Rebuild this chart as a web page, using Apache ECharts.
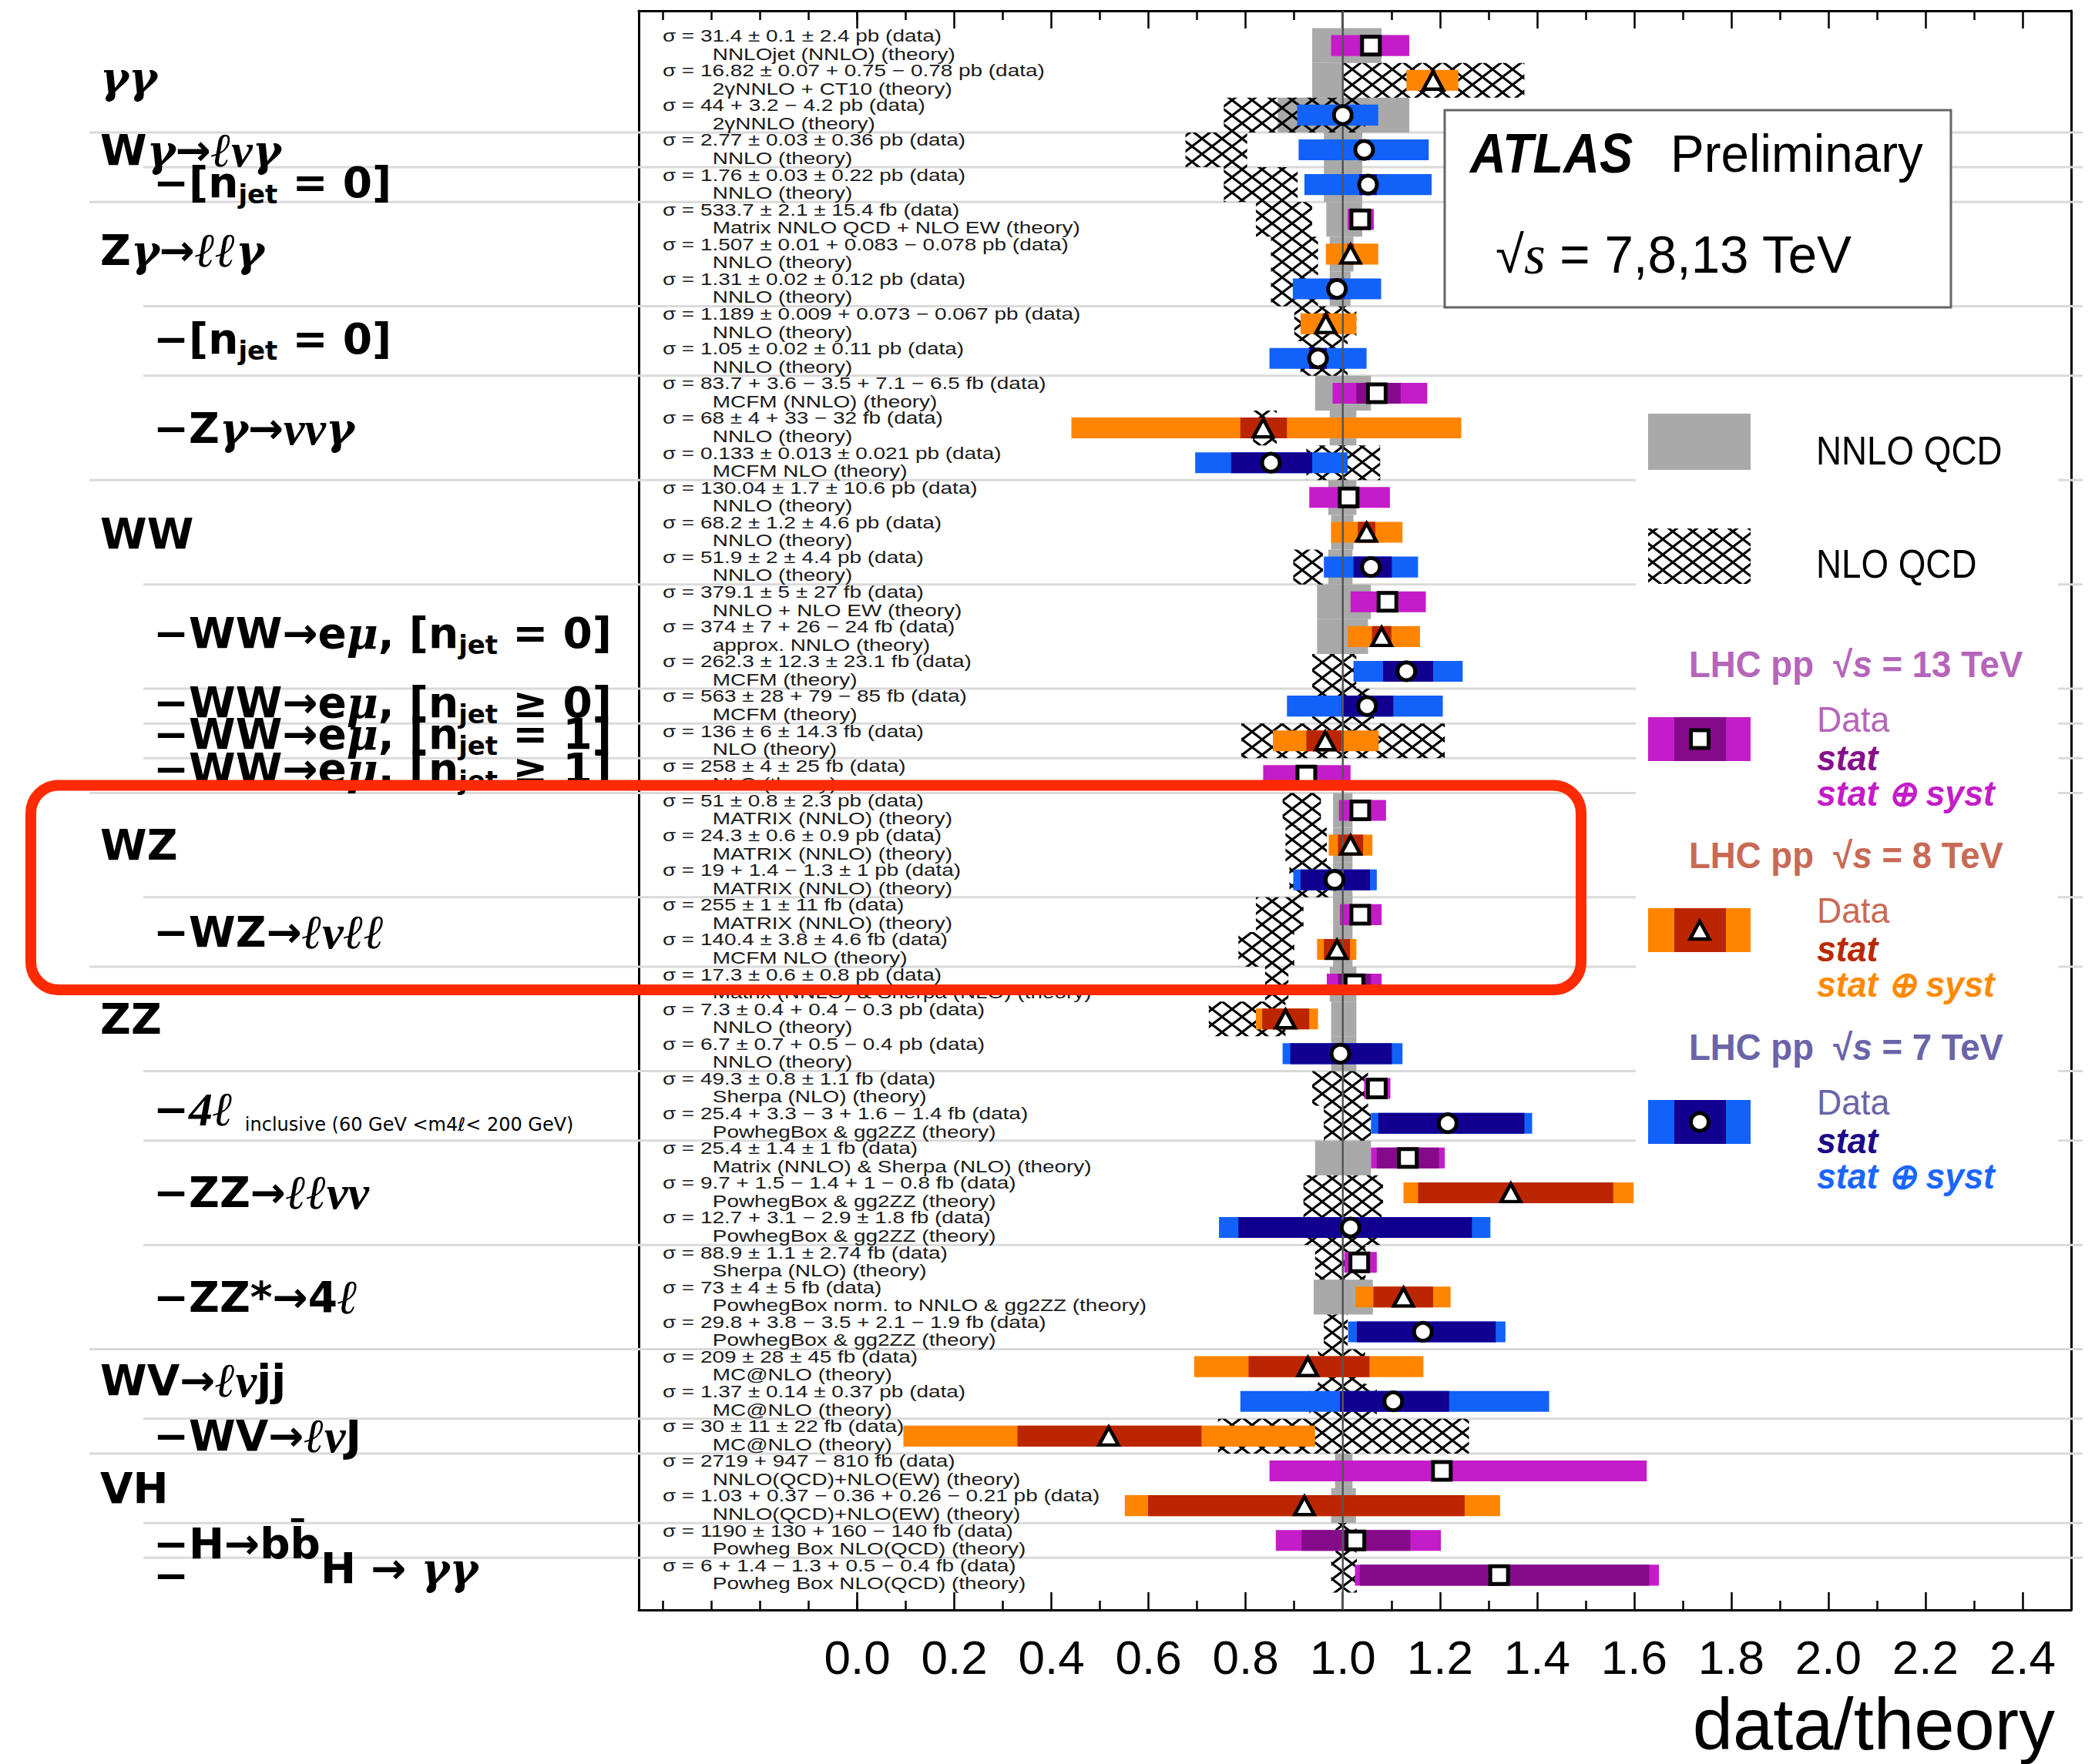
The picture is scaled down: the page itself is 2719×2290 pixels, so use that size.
<!DOCTYPE html>
<html><head><meta charset="utf-8">
<script src="https://cdn.jsdelivr.net/npm/echarts@6/dist/echarts.min.js"></script>
<style>html,body{margin:0;padding:0;background:#fff}#c{width:2719px;height:2290px}</style>
</head><body><div id="c"></div>
<script>
// ---------------- data ----------------
const dataText = [
"σ = 31.4 ± 0.1 ± 2.4 pb (data)",
"σ = 16.82 ± 0.07 + 0.75 − 0.78 pb (data)",
"σ = 44 + 3.2 − 4.2 pb (data)",
"σ = 2.77 ± 0.03 ± 0.36 pb (data)",
"σ = 1.76 ± 0.03 ± 0.22 pb (data)",
"σ = 533.7 ± 2.1 ± 15.4 fb (data)",
"σ = 1.507 ± 0.01 + 0.083 − 0.078 pb (data)",
"σ = 1.31 ± 0.02 ± 0.12 pb (data)",
"σ = 1.189 ± 0.009 + 0.073 − 0.067 pb (data)",
"σ = 1.05 ± 0.02 ± 0.11 pb (data)",
"σ = 83.7 + 3.6 − 3.5 + 7.1 − 6.5 fb (data)",
"σ = 68 ± 4 + 33 − 32 fb (data)",
"σ = 0.133 ± 0.013 ± 0.021 pb (data)",
"σ = 130.04 ± 1.7 ± 10.6 pb (data)",
"σ = 68.2 ± 1.2 ± 4.6 pb (data)",
"σ = 51.9 ± 2 ± 4.4 pb (data)",
"σ = 379.1 ± 5 ± 27 fb (data)",
"σ = 374 ± 7 + 26 − 24 fb (data)",
"σ = 262.3 ± 12.3 ± 23.1 fb (data)",
"σ = 563 ± 28 + 79 − 85 fb (data)",
"σ = 136 ± 6 ± 14.3 fb (data)",
"σ = 258 ± 4 ± 25 fb (data)",
"σ = 51 ± 0.8 ± 2.3 pb (data)",
"σ = 24.3 ± 0.6 ± 0.9 pb (data)",
"σ = 19 + 1.4 − 1.3 ± 1 pb (data)",
"σ = 255 ± 1 ± 11 fb (data)",
"σ = 140.4 ± 3.8 ± 4.6 fb (data)",
"σ = 17.3 ± 0.6 ± 0.8 pb (data)",
"σ = 7.3 ± 0.4 + 0.4 − 0.3 pb (data)",
"σ = 6.7 ± 0.7 + 0.5 − 0.4 pb (data)",
"σ = 49.3 ± 0.8 ± 1.1 fb (data)",
"σ = 25.4 + 3.3 − 3 + 1.6 − 1.4 fb (data)",
"σ = 25.4 ± 1.4 ± 1 fb (data)",
"σ = 9.7 + 1.5 − 1.4 + 1 − 0.8 fb (data)",
"σ = 12.7 + 3.1 − 2.9 ± 1.8 fb (data)",
"σ = 88.9 ± 1.1 ± 2.74 fb (data)",
"σ = 73 ± 4 ± 5 fb (data)",
"σ = 29.8 + 3.8 − 3.5 + 2.1 − 1.9 fb (data)",
"σ = 209 ± 28 ± 45 fb (data)",
"σ = 1.37 ± 0.14 ± 0.37 pb (data)",
"σ = 30 ± 11 ± 22 fb (data)",
"σ = 2719 + 947 − 810 fb (data)",
"σ = 1.03 + 0.37 − 0.36 + 0.26 − 0.21 pb (data)",
"σ = 1190 ± 130 + 160 − 140 fb (data)",
"σ = 6 + 1.4 − 1.3 + 0.5 − 0.4 fb (data)"
];
const theoryText = [
"NNLOjet (NNLO) (theory)","2γNNLO + CT10 (theory)","2γNNLO (theory)","NNLO (theory)","NNLO (theory)",
"Matrix NNLO QCD + NLO EW (theory)","NNLO (theory)","NNLO (theory)","NNLO (theory)","NNLO (theory)",
"MCFM (NNLO) (theory)","NNLO (theory)","MCFM NLO (theory)","NNLO (theory)","NNLO (theory)",
"NNLO (theory)","NNLO + NLO EW (theory)","approx. NNLO (theory)","MCFM (theory)","MCFM (theory)",
"NLO (theory)","NLO (theory)","MATRIX (NNLO) (theory)","MATRIX (NNLO) (theory)","MATRIX (NNLO) (theory)",
"MATRIX (NNLO) (theory)","MCFM NLO (theory)","Matrix (NNLO) & Sherpa (NLO) (theory)","NNLO (theory)","NNLO (theory)",
"Sherpa (NLO) (theory)","PowhegBox & gg2ZZ (theory)","Matrix (NNLO) & Sherpa (NLO) (theory)","PowhegBox & gg2ZZ (theory)","PowhegBox & gg2ZZ (theory)",
"Sherpa (NLO) (theory)","PowhegBox norm. to NNLO & gg2ZZ (theory)","PowhegBox & gg2ZZ (theory)","MC@NLO (theory)","MC@NLO (theory)",
"MC@NLO (theory)","NNLO(QCD)+NLO(EW) (theory)","NNLO(QCD)+NLO(EW) (theory)","Powheg Box NLO(QCD) (theory)","Powheg Box NLO(QCD) (theory)"
];
const energy = [13,8,7,7,7,13,8,7,8,7,13,8,7,13,8,7,13,8,7,7,8,13,13,8,7,13,8,13,8,7,13,7,13,8,7,13,8,7,8,7,8,13,8,13,13];
const ratio  = [1.058,1.186,1.000,1.044,1.052,1.036,1.016,0.988,0.965,0.949,1.070,0.836,0.852,1.012,1.049,1.058,1.092,1.080,1.131,1.050,0.964,0.925,1.036,1.016,0.983,1.036,0.988,1.024,0.882,0.995,1.070,1.216,1.134,1.346,1.016,1.034,1.125,1.165,0.928,1.104,0.518,1.204,0.921,1.026,1.322];
const statLo = [1.055,1.181,1.000,1.033,1.034,1.032,1.009,0.973,0.958,0.931,1.028,0.789,0.770,0.999,1.031,1.022,1.078,1.060,1.083,0.998,0.925,0.911,1.020,0.990,0.913,1.032,0.961,0.990,0.834,0.892,1.059,1.073,1.070,1.155,0.785,1.021,1.063,1.029,0.806,0.994,0.330,1.204,0.599,0.915,1.035];
const statHi = [1.061,1.191,1.000,1.055,1.070,1.040,1.023,1.003,0.972,0.967,1.119,0.885,0.937,1.025,1.067,1.101,1.106,1.100,1.186,1.104,0.998,0.939,1.052,1.042,1.056,1.040,1.015,1.058,0.931,1.101,1.081,1.374,1.198,1.557,1.266,1.047,1.186,1.315,1.055,1.219,0.709,1.204,1.251,1.139,1.631];
const totLo  = [0.976,1.131,0.906,0.909,0.921,1.010,0.965,0.897,0.913,0.849,0.979,0.441,0.696,0.931,0.976,0.961,1.016,1.010,1.022,0.885,0.856,0.836,0.992,0.971,0.898,0.994,0.947,0.967,0.821,0.876,1.044,1.058,1.058,1.125,0.745,1.003,1.026,1.011,0.694,0.789,0.095,0.849,0.551,0.862,1.025];
const totHi  = [1.137,1.238,1.073,1.177,1.183,1.064,1.073,1.079,1.028,1.049,1.174,1.244,1.010,1.097,1.123,1.155,1.171,1.159,1.247,1.206,1.074,1.016,1.089,1.061,1.070,1.080,1.028,1.080,0.949,1.123,1.098,1.390,1.210,1.599,1.304,1.070,1.222,1.335,1.166,1.425,0.943,1.626,1.324,1.202,1.651];
// theory bands: [row, low, high]
const grayBands = [[1,0.937,1.080],[2,0.937,1.000],[3,0.866,1.137],[4,0.961,1.040],[5,0.961,1.040],[6,0.966,1.040],[7,0.973,1.022],[8,0.973,1.016],
[11,0.943,1.058],[12,0.973,1.028],[14,0.970,1.028],[15,0.976,1.022],[16,0.970,1.020],[17,0.947,1.058],[18,0.947,1.052],
[23,0.980,1.020],[24,0.980,1.020],[25,0.980,1.020],[26,0.980,1.020],[27,0.980,1.020],[28,0.973,1.028],[29,0.976,1.028],[30,0.976,1.028],
[33,0.943,1.058],[37,0.940,1.062],[42,0.984,1.020],[43,0.976,1.027]];
const hatchBands = [[2,1.000,1.374],[3,0.755,1.046],[4,0.676,0.803],[5,0.755,0.907],[6,0.821,0.937],[7,0.852,0.949],[8,0.852,0.949],[9,0.900,1.028],[10,0.913,1.010],
[12,0.815,0.864],[13,0.925,1.077],[16,0.898,0.959],[19,0.937,1.028],[20,0.937,1.064],[21,0.791,1.210],[23,0.876,0.955],[24,0.882,0.967],[25,0.890,0.976],
[26,0.821,0.919],[27,0.785,0.900],[28,0.840,0.888],[29,0.724,0.882],[31,0.937,1.052],[32,0.961,1.058],[34,0.919,1.083],[35,0.919,1.080],[36,0.943,1.047],
[38,0.961,1.010],[39,0.949,1.046],[40,0.931,1.070],[41,0.743,1.260],[44,0.985,1.028],[45,0.976,1.029]];
// separators between processes
const sepRows = [3.5,4.5,5.5,8.5,10.5,13.5,16.5,19.5,20.5,21.5,22.5,25.5,27.5,30.5,32.5,35.5,38.5,40.5,41.5,43.5,44.5];
const sepMain = [1,0,1,0,0,1,0,0,0,0,1,0,1,0,0,0,1,0,1,0,0];
// process labels (row position, rich text)
const labelRows = [1.9,4.0,4.95,6.9,9.45,12.0,15.05,17.9,19.9,20.8,21.8,24.0,26.5,29.0,31.6,34.0,37.0,39.4,41.0,42.5,44.1,45.0,44.8];
const labelLevel = [0,0,1,0,1,1,0,1,1,1,1,0,1,0,1,1,1,0,1,0,1,1,2];
const labelText = [
"{g|γγ}",
"{b|W}{g|γ}{b|→}{m|ℓν}{g|γ}",
"{b|−[n}{s|jet}{b| = 0]}",
"{b|Z}{g|γ}{b|→}{m|ℓℓ}{g|γ}",
"{b|−[n}{s|jet}{b| = 0]}",
"{b|−Z}{g|γ}{b|→}{m|νν}{g|γ}",
"{b|WW}",
"{b|−WW→e}{g|μ}{b|, [n}{s|jet}{b| = 0]}",
"{b|−WW→e}{g|μ}{b|, [n}{s|jet}{b| ≥ 0]}",
"{b|−WW→e}{g|μ}{b|, [n}{s|jet}{b| = 1]}",
"{b|−WW→e}{g|μ}{b|, [n}{s|jet}{b| ≥ 1]}",
"{b|WZ}",
"{b|−WZ→}{m|ℓνℓℓ}",
"{b|ZZ}",
"{b|−}{m|4ℓ}{t|  inclusive (60 GeV <m4ℓ< 200 GeV)}",
"{b|−ZZ→}{m|ℓℓνν}",
"{b|−ZZ*→4}{m|ℓ}",
"{b|WV→}{m|ℓν}{b|jj}",
"{b|−WV→}{m|ℓν}{b|J}",
"{b|VH}",
"{b|−H→bb̄}",
"{b|−}",
"{b|H → }{g|γγ}"
];
const axisTickLabels = ["0.0","0.2","0.4","0.6","0.8","1.0","1.2","1.4","1.6","1.8","2.0","2.2","2.4"];

// ---------------- layout / style ----------------
const XMIN = -0.45, XMAX = 2.5, YMAX = 46;
const G = {left: 829, top: 14, width: 1859, height: 2076};
const PPU = G.width / (XMAX - XMIN);
const COLORS = {13: ['#c41cc8', '#850a8a'], 8: ['#ff8500', '#bb2600'], 7: ['#1262fa', '#120090']};
const GRAY = '#a9a9a9';
const SIG_X = -0.401, THE_X = -0.298;

function makeHatch() {
  const c = document.createElement('canvas'); c.width = 26; c.height = 20;
  const g = c.getContext('2d'); g.strokeStyle = '#000'; g.lineWidth = 3;
  for (const dx of [-26, 0, 26]) for (const dy of [-20, 0, 20]) {
    g.beginPath(); g.moveTo(dx, dy); g.lineTo(dx + 26, dy + 20);
    g.moveTo(dx + 26, dy); g.lineTo(dx, dy + 20); g.stroke();
  }
  return c;
}
const HATCH = {image: makeHatch(), repeat: 'repeat', imageWidth: 26, imageHeight: 20};

const RICH = {
  b: {fontFamily: 'DejaVu Sans', fontWeight: 'bold', fontSize: 55, lineHeight: 64, fill: '#000'},
  m: {fontFamily: '"Liberation Serif", "DejaVu Serif", serif', fontStyle: 'italic', fontWeight: 'bold', fontSize: 62, lineHeight: 64, fill: '#000'},
  g: {fontFamily: '"DejaVu Serif", serif', fontStyle: 'italic', fontWeight: 'bold', fontSize: 56, lineHeight: 64, fill: '#000'},
  s: {fontFamily: 'DejaVu Sans', fontWeight: 'bold', fontSize: 34, lineHeight: 24, verticalAlign: 'bottom', fill: '#000'},
  t: {fontFamily: 'DejaVu Sans', fontSize: 24, lineHeight: 41, verticalAlign: 'bottom', fill: '#000'}
};

const chart = echarts.init(document.getElementById('c'), null, {renderer: 'svg', width: 2719, height: 2290});

const bandData = grayBands.map(b => [b[1], b[2], b[0], 0]).concat(hatchBands.map(b => [b[1], b[2], b[0], 1]));
const barData = ratio.map((r, i) => [totLo[i], totHi[i], statLo[i], statHi[i], i + 1, energy[i]]);
const sq = [], tri = [], cir = [];
ratio.forEach((r, i) => { const p = [r, i + 1]; if (energy[i] === 13) sq.push(p); else if (energy[i] === 8) tri.push(p); else cir.push(p); });

const hiddenY = (gi, pos) => ({type: 'value', gridIndex: gi, min: 0, max: YMAX, inverse: true, position: pos,
  axisLine: {show: gi === 0, onZero: false, lineStyle: {color: '#000', width: 3}}, axisTick: {show: false}, axisLabel: {show: false}, splitLine: {show: false}});

const tickCommon = {axisLine: {show: false, onZero: false}, splitLine: {show: false}};

const option = {
  animation: false,
  backgroundColor: '#fff',
  grid: [
    {left: G.left, top: G.top, width: G.width, height: G.height, containLabel: false, outerBoundsMode: 'none'},
    {left: G.left + (0 - XMIN) * PPU, top: G.top, width: 2.4 * PPU, height: G.height, containLabel: false, outerBoundsMode: 'none'},
    {left: G.left + (-0.4 - XMIN) * PPU, top: G.top, width: 0.4 * PPU, height: G.height, containLabel: false, outerBoundsMode: 'none'}
  ],
  xAxis: [
    {type: 'value', gridIndex: 0, min: XMIN, max: XMAX, position: 'bottom', axisLine: {show: true, onZero: false, lineStyle: {color: '#000', width: 3}}, axisTick: {show: false}, axisLabel: {show: false}, splitLine: {show: false}},
    {type: 'value', gridIndex: 0, min: XMIN, max: XMAX, position: 'top', axisLine: {show: true, onZero: false, lineStyle: {color: '#000', width: 3}}, axisTick: {show: false}, axisLabel: {show: false}, splitLine: {show: false}},
    Object.assign({type: 'value', gridIndex: 1, min: 0, max: 2.4, interval: 0.2, position: 'bottom',
      axisTick: {show: true, inside: true, length: 23, lineStyle: {color: '#000', width: 2.5}},
      minorTick: {show: true, splitNumber: 2, length: 12, lineStyle: {color: '#000', width: 2.5}},
      axisLabel: {show: true, margin: 30, fontSize: 62, color: '#000', fontFamily: '"Liberation Sans Narrow", "Liberation Sans", Arial',
        formatter: v => axisTickLabels[Math.round(v / 0.2)] || ''}}, tickCommon),
    Object.assign({type: 'value', gridIndex: 1, min: 0, max: 2.4, interval: 0.2, position: 'top',
      axisTick: {show: true, inside: true, length: 23, lineStyle: {color: '#000', width: 2.5}},
      minorTick: {show: true, splitNumber: 2, length: 12, lineStyle: {color: '#000', width: 2.5}},
      axisLabel: {show: false}}, tickCommon),
    Object.assign({type: 'value', gridIndex: 2, min: -0.4, max: 0, interval: 0.1, position: 'bottom',
      axisTick: {show: true, inside: true, length: 12, lineStyle: {color: '#000', width: 2.5}}, axisLabel: {show: false}}, tickCommon),
    Object.assign({type: 'value', gridIndex: 2, min: -0.4, max: 0, interval: 0.1, position: 'top',
      axisTick: {show: true, inside: true, length: 12, lineStyle: {color: '#000', width: 2.5}}, axisLabel: {show: false}}, tickCommon)
  ],
  yAxis: [hiddenY(0, 'left'), hiddenY(0, 'right'), hiddenY(1, 'left'), hiddenY(2, 'left')],
  series: [
    { // separators
      type: 'custom', xAxisIndex: 0, yAxisIndex: 0, z: 1, silent: true,
      data: sepRows.map((r, i) => [0, r, sepMain[i]]),
      renderItem: (params, api) => {
        const y = api.coord([0, api.value(1)])[1];
        const x0 = api.value(2) ? 116 : 186;
        return {type: 'line', shape: {x1: x0, y1: y, x2: 2703, y2: y}, style: {stroke: '#dadada', lineWidth: 3}};
      }
    },
    { // theory bands
      type: 'custom', xAxisIndex: 0, yAxisIndex: 0, z: 2, silent: true,
      data: bandData,
      renderItem: (params, api) => {
        const row = api.value(2);
        const p1 = api.coord([api.value(0), row - 0.5]), p2 = api.coord([api.value(1), row + 0.5]);
        return {type: 'rect', shape: {x: p1[0], y: Math.min(p1[1], p2[1]), width: p2[0] - p1[0], height: Math.abs(p2[1] - p1[1])},
          style: {fill: api.value(3) === 1 ? HATCH : GRAY}};
      }
    },
    { // measurement bars
      type: 'custom', xAxisIndex: 0, yAxisIndex: 0, z: 3, silent: true,
      data: barData,
      renderItem: (params, api) => {
        const row = api.value(4), col = COLORS[api.value(5)];
        const h = api.size([0, 0.6])[1];
        const a = api.coord([api.value(0), row]), b = api.coord([api.value(1), row]);
        const c = api.coord([api.value(2), row]), d = api.coord([api.value(3), row]);
        return {type: 'group', children: [
          {type: 'rect', shape: {x: a[0], y: a[1] - h / 2, width: b[0] - a[0], height: h}, style: {fill: col[0]}},
          {type: 'rect', shape: {x: c[0], y: c[1] - h / 2, width: Math.max(d[0] - c[0], 0), height: h}, style: {fill: col[1]}}
        ]};
      }
    },
    { // unity line
      type: 'line', xAxisIndex: 0, yAxisIndex: 0, z: 4, silent: true, symbol: 'none',
      data: [[1, 0], [1, YMAX]], lineStyle: {color: '#555', width: 2.5}
    },
    {type: 'scatter', name: '13 TeV', xAxisIndex: 0, yAxisIndex: 0, z: 5, silent: true, data: sq, symbol: 'rect', symbolSize: 23,
      itemStyle: {color: '#fff', borderColor: '#000', borderWidth: 5, opacity: 1}},
    {type: 'scatter', name: '8 TeV', xAxisIndex: 0, yAxisIndex: 0, z: 5, silent: true, data: tri, symbol: 'triangle', symbolSize: [25, 23],
      itemStyle: {color: '#fff', borderColor: '#000', borderWidth: 4.5, opacity: 1}},
    {type: 'scatter', name: '7 TeV', xAxisIndex: 0, yAxisIndex: 0, z: 5, silent: true, data: cir, symbol: 'circle', symbolSize: 23,
      itemStyle: {color: '#fff', borderColor: '#000', borderWidth: 5, opacity: 1}},
    { // cross-section texts
      type: 'custom', xAxisIndex: 0, yAxisIndex: 0, z: 6, silent: true,
      data: ratio.map((r, i) => [0, i + 1]),
      renderItem: (params, api) => {
        const i = params.dataIndex, row = api.value(1);
        const pD = api.coord([SIG_X, row]), pT = api.coord([THE_X, row]);
        const st = t => ({text: t, fontSize: 22, fontFamily: '"Liberation Sans", Arial', fill: '#1a1a1a', align: 'left', verticalAlign: 'middle'});
        return {type: 'group', children: [
          {type: 'text', x: pD[0], y: pD[1] - 13, scaleX: 1.27, style: st(dataText[i])},
          {type: 'text', x: pT[0], y: pT[1] + 10.5, scaleX: 1.27, style: st(theoryText[i])}
        ]};
      }
    },
    { // process labels
      type: 'custom', xAxisIndex: 0, yAxisIndex: 0, z: 6, silent: true,
      data: labelRows.map((r, i) => [0, r]),
      renderItem: (params, api) => {
        const i = params.dataIndex;
        const y = api.coord([0, api.value(1)])[1];
        const x = [130, 199, 416][labelLevel[i]];
        return {type: 'text', x: x, y: y, style: {text: labelText[i], rich: RICH, align: 'left', verticalAlign: 'middle'}};
      }
    }
  ],
  graphic: {elements: [
    // ATLAS box
    {type: 'rect', z: 50, shape: {x: 1875, y: 143, width: 657, height: 256}, style: {fill: '#fff', stroke: '#666', lineWidth: 3}},
    {type: 'text', z: 51, x: 1908, y: 199, scaleX: 0.9, style: {text: 'ATLAS', fontFamily: '"Liberation Sans", Arial', fontWeight: 'bold', fontStyle: 'italic', fontSize: 72, fill: '#000', align: 'left', verticalAlign: 'middle'}},
    {type: 'text', z: 51, x: 2168, y: 199, scaleX: 0.95, style: {text: 'Preliminary', fontFamily: '"Liberation Sans", Arial', fontSize: 69, fill: '#000', align: 'left', verticalAlign: 'middle'}},
    {type: 'text', z: 51, x: 1941, y: 330, scaleX: 0.99, style: {text: '{r|√}{i|s}{r| = 7,8,13 TeV}', align: 'left', verticalAlign: 'middle',
      rich: {r: {fontFamily: '"Liberation Sans", Arial', fontSize: 68, fill: '#000'}, i: {fontFamily: '"Liberation Serif", serif', fontStyle: 'italic', fontSize: 72, fill: '#000'}}}},
    // legend
    {type: 'rect', z: 50, shape: {x: 2123, y: 505, width: 548, height: 1095}, style: {fill: '#fff'}},
    {type: 'rect', z: 51, shape: {x: 2139, y: 537, width: 133, height: 73}, style: {fill: GRAY}},
    {type: 'text', z: 51, x: 2357, y: 585, scaleX: 0.88, style: {text: 'NNLO QCD', fontFamily: '"Liberation Sans", Arial', fontSize: 52, fill: '#000', align: 'left', verticalAlign: 'middle'}},
    {type: 'rect', z: 51, shape: {x: 2139, y: 686, width: 133, height: 72}, style: {fill: HATCH}},
    {type: 'text', z: 51, x: 2357, y: 732, scaleX: 0.88, style: {text: 'NLO QCD', fontFamily: '"Liberation Sans", Arial', fontSize: 52, fill: '#000', align: 'left', verticalAlign: 'middle'}}
  ].concat([
    {e: 13, y: 863, sw: 931, col: ['#b565ba', '#86108a', '#c41cc8'], sym: 'rect'},
    {e: 8, y: 1111, sw: 1179, col: ['#c86a55', '#b82a05', '#ff8a00'], sym: 'triangle'},
    {e: 7, y: 1360, sw: 1428, col: ['#6a64a8', '#1c0a8a', '#1a66ff'], sym: 'circle'}
  ].flatMap(L => {
    const els = [
      {type: 'text', z: 51, x: 2192, y: L.y, scaleX: 0.95, style: {text: '{h|LHC pp  √}{hi|s}{h| = ' + L.e + ' TeV}', align: 'left', verticalAlign: 'middle',
        rich: {h: {fontFamily: '"Liberation Sans", Arial', fontWeight: 'bold', fontSize: 48, fill: L.col[0]}, hi: {fontFamily: '"Liberation Sans", Arial', fontWeight: 'bold', fontStyle: 'italic', fontSize: 48, fill: L.col[0]}}}},
      {type: 'rect', z: 51, shape: {x: 2139, y: L.sw, width: 133, height: 57}, style: {fill: COLORS[L.e][0]}},
      {type: 'rect', z: 51, shape: {x: 2173, y: L.sw, width: 67, height: 57}, style: {fill: COLORS[L.e][1]}},
      {type: 'text', z: 51, x: 2358, y: L.y + 71, scaleX: 0.97, style: {text: 'Data', fontFamily: '"Liberation Sans", Arial', fontSize: 46, fill: L.col[0], align: 'left', verticalAlign: 'middle'}},
      {type: 'text', z: 51, x: 2358, y: L.y + 121, scaleX: 0.97, style: {text: 'stat', fontFamily: '"Liberation Sans", Arial', fontWeight: 'bold', fontStyle: 'italic', fontSize: 46, fill: L.col[1], align: 'left', verticalAlign: 'middle'}},
      {type: 'text', z: 51, x: 2358, y: L.y + 167, scaleX: 0.97, style: {text: 'stat ⊕ syst', fontFamily: '"Liberation Sans", Arial', fontWeight: 'bold', fontStyle: 'italic', fontSize: 46, fill: L.col[2], align: 'left', verticalAlign: 'middle'}}
    ];
    const cy = L.sw + 28.5;
    if (L.sym === 'rect') els.push({type: 'rect', z: 52, shape: {x: 2206 - 11.5, y: cy - 11.5, width: 23, height: 23}, style: {fill: '#fff', stroke: '#000', lineWidth: 5}});
    else if (L.sym === 'circle') els.push({type: 'circle', z: 52, shape: {cx: 2206, cy: cy, r: 11.5}, style: {fill: '#fff', stroke: '#000', lineWidth: 5}});
    else els.push({type: 'polygon', z: 52, shape: {points: [[2206, cy - 11.5], [2218.5, cy + 11.5], [2193.5, cy + 11.5]]}, style: {fill: '#fff', stroke: '#000', lineWidth: 4.5}});
    return els;
  })).concat([
    {type: 'text', z: 51, x: 2667, y: 2238, style: {text: 'data/theory', fontFamily: '"Liberation Sans", Arial', fontSize: 94, fill: '#000', align: 'right', verticalAlign: 'middle'}},
    {type: 'rect', z: 100, shape: {x: 40, y: 1019.5, width: 2012, height: 265.5, r: 36}, style: {fill: 'none', stroke: '#ff2a00', lineWidth: 14}}
  ])}
};
chart.setOption(option);
</script></body></html>
